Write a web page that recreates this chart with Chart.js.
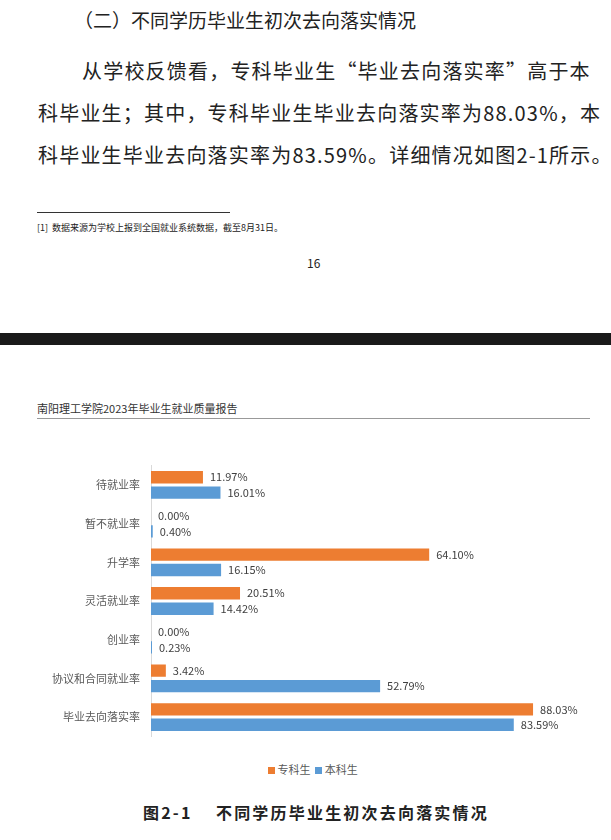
<!DOCTYPE html>
<html><head><meta charset="utf-8">
<script src="https://cdn.jsdelivr.net/npm/chart.js@4"></script>
<style>
body{margin:0;width:611px;height:840px;background:#fff;position:relative;overflow:hidden;font-family:"Noto Sans CJK SC",sans-serif;color:#222}
.a{position:absolute;white-space:nowrap}
.p{font-size:20px;letter-spacing:1.2px}
</style></head><body>
<div class="a" style="left:74px;top:6px;font-size:19px">（二）不同学历毕业生初次去向落实情况</div>
<div class="a p" style="left:82px;top:56px">从学校反馈看，专科毕业生“毕业去向落实率”高于本</div>
<div class="a p" style="left:38px;top:98px">科毕业生；其中，专科毕业生毕业去向落实率为88.03%，本</div>
<div class="a p" style="left:38px;top:140px">科毕业生毕业去向落实率为83.59%。详细情况如图2-1所示。</div>
<div class="a" style="left:37px;top:212px;width:193px;border-top:1px solid #333"></div>
<div class="a" style="left:37px;top:221px;font-size:9px">[1]&nbsp; 数据来源为学校上报到全国就业系统数据，截至8月31日。</div>
<div class="a" style="left:307px;top:254px;font-size:12px">16</div>
<div class="a" style="left:0;top:333px;width:611px;height:12px;background:#1a1a1a"></div>
<div class="a" style="left:37px;top:400px;font-size:11px;color:#333">南阳理工学院2023年毕业生就业质量报告</div>
<div class="a" style="left:37px;top:418px;width:553px;border-top:1px solid #999"></div>
<div class="a" style="left:0;top:456px;width:611px;height:290px"><canvas id="c"></canvas></div>
<div class="a" style="left:268px;top:761px;font-size:11px;color:#595959"><span style="display:inline-block;width:7px;height:7px;background:#ED7D31"></span> 专科生 &nbsp;<span style="display:inline-block;width:7px;height:7px;background:#5B9BD5"></span> 本科生</div>
<div class="a" style="left:143px;top:800px;font-size:16px;font-weight:bold;letter-spacing:2.2px">图2-1&nbsp;&nbsp;&nbsp; 不同学历毕业生初次去向落实情况</div>
<script>
const categories=["待就业率","暂不就业率","升学率","灵活就业率","创业率","协议和合同就业率","毕业去向落实率"];
const zhuanke=[11.97,0.00,64.10,20.51,0.00,3.42,88.03];
const benke=[16.01,0.40,16.15,14.42,0.23,52.79,83.59];
const labelPlugin={id:'lbl',afterDatasetsDraw(ch){const x=ch.ctx;x.save();x.font='11px "Noto Sans CJK SC"';x.fillStyle='#404040';x.textBaseline='middle';
ch.data.datasets.forEach((d,i)=>{ch.getDatasetMeta(i).data.forEach((b,j)=>{x.fillText(d.data[j].toFixed(2)+'%',b.x+7,b.y);});});x.restore();}};
new Chart(document.getElementById('c'),{type:'bar',
data:{labels:categories,datasets:[{label:'专科生',data:zhuanke,backgroundColor:'#ED7D31'},{label:'本科生',data:benke,backgroundColor:'#5B9BD5'}]},
options:{indexAxis:'y',responsive:true,maintainAspectRatio:false,animation:false,
datasets:{bar:{categoryPercentage:0.8,barPercentage:0.8}},
layout:{padding:{top:4,right:26,bottom:0,left:0}},
plugins:{legend:{display:false},tooltip:{enabled:false}},
scales:{x:{display:false,min:0,max:100},
y:{afterFit(s){s.width=151;},grid:{display:false},border:{color:'#d9d9d9'},ticks:{color:'#595959',font:{size:11,family:'"Noto Sans CJK SC"'}}}}},
plugins:[labelPlugin]});
</script></body></html>
